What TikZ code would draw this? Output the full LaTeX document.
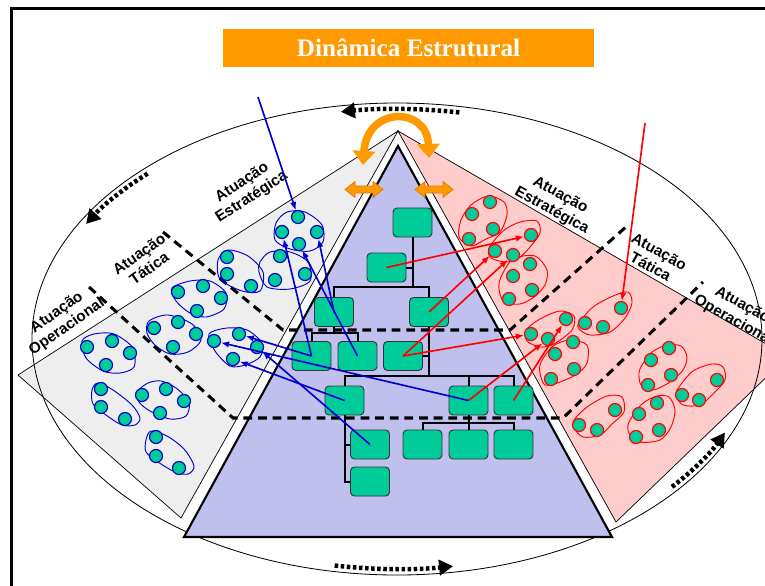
\documentclass[tikz,border=0pt]{standalone}
\usepackage{fontspec}
\setmainfont{Liberation Sans}
\newfontfamily\titlefont{Liberation Serif}
\usetikzlibrary{arrows.meta,calc}

\definecolor{orng}{RGB}{255,153,0}
\definecolor{orngdark}{RGB}{225,120,0}
\definecolor{boxgreen}{RGB}{0,204,153}
\definecolor{panelgray}{RGB}{238,238,238}
\definecolor{panelpink}{RGB}{255,204,204}
\definecolor{pyrblue}{RGB}{192,192,238}
\definecolor{dotblue}{RGB}{0,0,204}

\newcommand\hdblarrow[2]{%
  \filldraw[fill=orng, draw=orngdark, line width=0.6pt]
    (#1-19,-#2) -- ++(10,8) -- ++(0,-4.5) -- ++(18,0) -- ++(0,4.5) -- ++(10,-8)
    -- ++(-10,-8) -- ++(0,4.5) -- ++(-18,0) -- ++(0,-4.5) -- cycle;}

\begin{document}
\begin{tikzpicture}[x=0.03cm, y=0.03cm,
  box/.style={draw=black!80, line width=0.8pt, fill=boxgreen, rounded corners=0.12cm,
    minimum width=1.17cm, minimum height=0.87cm, inner sep=0pt},
  org/.style={line width=1.7pt, black},
  bdot/.style={circle, draw=dotblue, line width=1pt, fill=boxgreen, minimum size=0.39cm, inner sep=0pt},
  rdot/.style={circle, draw=red, line width=1pt, fill=boxgreen, minimum size=0.39cm, inner sep=0pt},
  bloop/.style={draw=dotblue, line width=0.8pt},
  rloop/.style={draw=red, line width=0.8pt},
  barrow/.style={draw=dotblue, line width=1.4pt, -{Latex[length=7pt,width=5.5pt]}},
  rarrow/.style={draw=red, line width=1.4pt, -{Latex[length=7pt,width=5.5pt]}},
  level/.style={line width=2.6pt, dash pattern=on 7.5pt off 5pt},
  cycarrow/.style={line width=3.8pt, dash pattern=on 3pt off 2.2pt, -{Triangle[length=12pt,width=13pt]}},
  lab/.style={font=\bfseries\fontsize{13}{15}\selectfont, align=center, inner sep=0pt},
]
\useasboundingbox (0,0) rectangle (765,-585);

% outer frame
\draw[line width=2.8pt] (11.5,-600) -- (11.5,-8.5) -- (780,-8.5);

% title
\node[fill=orng, minimum width=11.13cm, minimum height=1.14cm, text=white,
  font=\titlefont\bfseries\fontsize{21.5}{24}\selectfont] (title) at (408.5,-47.5) {Dinâmica Estrutural};

% side panels
\filldraw[fill=panelgray, draw=black, line width=0.6pt] (398,-131) -- (18,-375) -- (181,-518) -- cycle;
\filldraw[fill=panelpink, draw=black, line width=0.6pt] (398,-131) -- (780,-352) -- (780,-364) -- (616,-522) -- cycle;

% cycle ellipse
\coordinate (E) at (397,-339);
\draw[line width=0.7pt] (E) ellipse [x radius=365, y radius=236];

% pyramid
\filldraw[fill=pyrblue, draw=black, line width=1.8pt] (398,-146) -- (184,-537) -- (612,-537) -- cycle;

% level boundaries
\draw[level] (163,-232) -- (283,-330) -- (510,-330) -- (627,-226);
\draw[level] (89,-287) -- (233,-418) -- (563,-418) -- (703,-282);

% organisation chart
\coordinate (k1) at (412.5,-287);
\coordinate (k2) at (334,-333);
\coordinate (k3) at (429,-376);
\coordinate (k4) at (468.5,-423);
\node[box] (T) at (412.5,-222.5) {};
\node[box] (M) at (386.5,-267.5) {};
\node[box] (L3L) at (334,-312) {};
\node[box] (L3R) at (429,-312) {};
\node[box] (R4a) at (311.5,-356) {};
\node[box] (R4b) at (357.5,-356) {};
\node[box] (R4c) at (403,-356) {};
\node[box] (R5a) at (344.5,-400.5) {};
\node[box] (R5b) at (468.5,-400.5) {};
\node[box] (R5c) at (513.5,-400.5) {};
\node[box] (R6a) at (370,-444.5) {};
\node[box] (R6b) at (422.5,-444.5) {};
\node[box] (R6c) at (468.5,-444.5) {};
\node[box] (R6d) at (513.5,-444.5) {};
\node[box] (R7a) at (370,-481.5) {};
\draw[org] (T.south) -- (k1);
\draw[org] (M.east) -- (M.east -| k1);
\draw[org] (L3L.north) |- (k1) -| (L3R.north);
\draw[org] (L3L.south) -- (k2);
\draw[org] (R4a.north) |- (k2) -| (R4b.north);
\draw[org] (L3R.south) -- (k3);
\draw[org] (R4c.east) -- (R4c.east -| k3);
\draw[org] (R5a.north) |- (k3) -| (R5c.north);
\draw[org] (k3 -| R5b.north) -- (R5b.north);
\draw[org] (R5a.south) |- (R7a.west);
\draw[org] (R6a.west) -- (R6a.west -| R5a.south);
\draw[org] (R5b.south) -- (k4);
\draw[org] (R6b.north) |- (k4) -| (R6d.north);
\draw[org] (k4) -- (R6c.north);

% groups on the left (blue)
\draw[bloop] plot[smooth cycle] coordinates {(276,-223) (287,-212) (305,-212) (322,-225) (323,-242) (310,-251) (290,-249) (275,-240)};
\draw[bloop] plot[smooth cycle] coordinates {(260,-262) (270,-252) (290,-252) (308,-262) (310,-281) (290,-289) (267,-287) (259,-272)};
\draw[bloop] plot[smooth cycle] coordinates {(218,-260) (228,-250) (248,-256) (263,-272) (260,-291) (242,-291) (220,-279)};
\draw[bloop] plot[smooth cycle] coordinates {(172,-288) (190,-281) (210,-281) (226,-293) (224,-309) (206,-317) (190,-313) (176,-301)};
\draw[bloop] plot[smooth cycle] coordinates {(149,-321) (168,-315) (192,-324) (201,-340) (188,-352) (170,-354) (155,-345) (147,-333)};
\draw[bloop] plot[smooth cycle] coordinates {(209,-334) (227,-328) (247,-330) (262,-343) (260,-357) (245,-365) (230,-366) (215,-351)};
\draw[bloop] plot[smooth cycle] coordinates {(82,-341) (94,-334) (114,-334) (133,-348) (134,-367) (120,-373) (103,-371) (86,-358)};
\draw[bloop] plot[smooth cycle] coordinates {(92,-390) (98,-383) (113,-390) (132,-405) (140,-418) (135,-425) (122,-425) (106,-415) (93,-404)};
\draw[bloop] plot[smooth cycle] coordinates {(137,-392) (148,-383) (161,-381) (176,-388) (189,-402) (186,-416) (170,-419) (150,-411) (139,-402)};
\draw[bloop] plot[smooth cycle] coordinates {(146,-440) (151,-431) (167,-436) (184,-449) (194,-466) (188,-474) (175,-472) (158,-462) (146,-452)};

\node[bdot] (la1) at (298,-217) {};
\node[bdot] (la2) at (282,-232) {};
\node[bdot] (la3) at (317,-232) {};
\node[bdot] (la4) at (299,-244) {};
\node[bdot] (lb1) at (280,-256) {};
\node[bdot] (lb2) at (275,-280) {};
\node[bdot] (lb3) at (305,-274) {};
\node[bdot] (lc1) at (227,-257) {};
\node[bdot] (lc2) at (227,-274) {};
\node[bdot] (lc3) at (251,-286) {};
\node[bdot] (ld1) at (178,-292) {};
\node[bdot] (ld2) at (203,-286) {};
\node[bdot] (ld3) at (221,-298) {};
\node[bdot] (ld4) at (197,-311) {};
\node[bdot] (le1) at (154,-328) {};
\node[bdot] (le2) at (178,-322) {};
\node[bdot] (le3) at (196,-334) {};
\node[bdot] (le4) at (173,-347) {};
\node[bdot] (lf1) at (214,-341) {};
\node[bdot] (lf2) at (239,-334) {};
\node[bdot] (lf3) at (257,-347) {};
\node[bdot] (lf4) at (233,-359) {};
\node[bdot] (lg1) at (87,-347) {};
\node[bdot] (lg2) at (112,-341) {};
\node[bdot] (lg3) at (130,-353) {};
\node[bdot] (lg4) at (106,-365) {};
\node[bdot] (lh1) at (101,-389) {};
\node[bdot] (lh2) at (101,-407) {};
\node[bdot] (lh3) at (125,-419) {};
\node[bdot] (li1) at (142,-395) {};
\node[bdot] (li2) at (166,-389) {};
\node[bdot] (li3) at (184,-401) {};
\node[bdot] (li4) at (160,-413) {};
\node[bdot] (lj1) at (156,-437) {};
\node[bdot] (lj2) at (156,-456) {};
\node[bdot] (lj3) at (179,-468) {};

% groups on the right (red)
\draw[rloop] plot[smooth cycle] coordinates {(461,-220) (471,-205) (488,-196) (504,-202) (507,-215) (500,-232) (486,-239) (471,-246) (459,-237)};
\draw[rloop] plot[smooth cycle] coordinates {(489,-248) (503,-231) (520,-222) (537,-221) (540,-233) (530,-247) (519,-258) (506,-262) (491,-258)};
\draw[rloop] plot[smooth cycle] coordinates {(501,-277) (513,-259) (535,-256) (547,-270) (545,-285) (534,-297) (520,-304) (504,-302) (499,-289)};
\draw[rloop] plot[smooth cycle] coordinates {(526,-330) (540,-319) (560,-311) (574,-316) (572,-330) (554,-344) (540,-347) (527,-341)};
\draw[rloop] plot[smooth cycle] coordinates {(541,-362) (553,-346) (570,-340) (587,-345) (587,-363) (577,-374) (560,-382) (545,-385) (540,-373)};
\draw[rloop] plot[smooth cycle] coordinates {(579,-323) (593,-307) (613,-296) (628,-292) (632,-303) (625,-318) (610,-332) (590,-335) (579,-329)};
\draw[rloop] plot[smooth cycle] coordinates {(574,-420) (587,-407) (607,-396) (622,-397) (624,-412) (612,-424) (600,-435) (583,-437) (574,-428)};
\draw[rloop] plot[smooth cycle] coordinates {(642,-365) (652,-352) (667,-345) (681,-346) (687,-357) (683,-370) (670,-382) (653,-390) (641,-385) (639,-373)};
\draw[rloop] plot[smooth cycle] coordinates {(679,-387) (693,-371) (712,-364) (723,-367) (725,-380) (713,-394) (700,-405) (683,-405) (676,-395)};
\draw[rloop] plot[smooth cycle] coordinates {(629,-422) (642,-404) (657,-396) (669,-397) (675,-410) (671,-427) (660,-440) (640,-442) (629,-433)};

\node[rdot] (ra1) at (490,-202) {};
\node[rdot] (ra2) at (472,-214) {};
\node[rdot] (ra3) at (493,-229) {};
\node[rdot] (ra4) at (469,-239) {};
\node[rdot] (rb1) at (531,-235) {};
\node[rdot] (rb2) at (495,-251) {};
\node[rdot] (rb3) at (513,-255) {};
\node[rdot] (rc1) at (530,-264) {};
\node[rdot] (rc2) at (513,-276) {};
\node[rdot] (rc3) at (532,-290) {};
\node[rdot] (rc4) at (509,-299) {};
\node[rdot] (rd1) at (531,-334) {};
\node[rdot] (rd2) at (548,-339) {};
\node[rdot] (rd3) at (566,-319) {};
\node[rdot] (re1) at (573,-342) {};
\node[rdot] (re2) at (555,-354) {};
\node[rdot] (re3) at (574,-369) {};
\node[rdot] (re4) at (551,-379) {};
\node[rdot] (rf1) at (585,-323) {};
\node[rdot] (rf2) at (603,-327) {};
\node[rdot] (rf3) at (621,-308) {};
\node[rdot] (rg1) at (579,-425) {};
\node[rdot] (rg2) at (597,-430) {};
\node[rdot] (rg3) at (615,-410) {};
\node[rdot] (rh1) at (669,-348) {};
\node[rdot] (rh2) at (651,-360) {};
\node[rdot] (rh3) at (671,-375) {};
\node[rdot] (rh4) at (648,-385) {};
\node[rdot] (ri1) at (717,-380) {};
\node[rdot] (ri2) at (682,-395) {};
\node[rdot] (ri3) at (699,-400) {};
\node[rdot] (rj1) at (657,-403) {};
\node[rdot] (rj2) at (639,-414) {};
\node[rdot] (rj3) at (659,-430) {};
\node[rdot] (rj4) at (636,-437) {};

% level labels
\node[lab, rotate=33] (lab1) at (247,-190) {Atuação\\Estratégica};
\node[lab, rotate=35] (lab2) at (144,-261) {Atuação\\Tática};
\node[lab, rotate=35] (lab3) at (62,-320) {Atuação\\Operacional};
\node[lab, rotate=-29] (lab4) at (556,-203) {Atuação\\Estratégica};
\node[lab, rotate=-29] (lab5) at (655,-259) {Atuação\\Tática};
\node[lab, rotate=-29] (lab6) at (738,-313) {Atuação\\Operacional};

% links from the structure to the groups
\coordinate (bsrc) at (258,-97);
\coordinate (rsrc) at (645,-123);
\draw[barrow] (bsrc) -- (la1);
\draw[barrow] (L3L.center) -- (la3);
\draw[barrow] (R4a.center) -- (la2);
\draw[barrow] (R4b.center) -- (la4);
\draw[barrow] (R4a.center) -- (lf2);
\draw[barrow] (R5b.center) -- (lf1);
\draw[barrow] (R5a.center) -- (lf4);
\draw[barrow] (R6a.center) -- (lf3);

\draw[rarrow] (rsrc) -- (rf3);
\draw[rarrow] (M.center) -- (rb1);
\draw[rarrow] (L3R.center) -- (rb2);
\draw[rarrow] (R4c.center) -- (rb3);
\draw[rarrow] (R4c.center) -- (rd1);
\draw[rarrow] (R5b.center) -- (rd2);
\draw[rarrow] (R5c.center) -- (rd3);

% orange arrows at the apex
\draw[orng, line width=6.5pt, {Triangle[length=12pt,width=19pt]}-{Triangle[length=12pt,width=19pt]}]
  (363,-165) .. controls (367,-106) and (427,-106) .. (429,-158);
\hdblarrow{364}{189.5}
\hdblarrow{434}{189.5}

% movement along the cycle
\draw[cycarrow] (E) ++(80:359 and 230) arc[start angle=80, end angle=99, x radius=359, y radius=230];
\draw[cycarrow] (E) ++(134:359 and 230) arc[start angle=134, end angle=150, x radius=359, y radius=230];
\draw[cycarrow] (E) ++(260:359 and 230) arc[start angle=260, end angle=279, x radius=359, y radius=230];
\draw[cycarrow] (E) ++(320:359 and 230) arc[start angle=320, end angle=336, x radius=359, y radius=230];
\end{tikzpicture}
\end{document}
